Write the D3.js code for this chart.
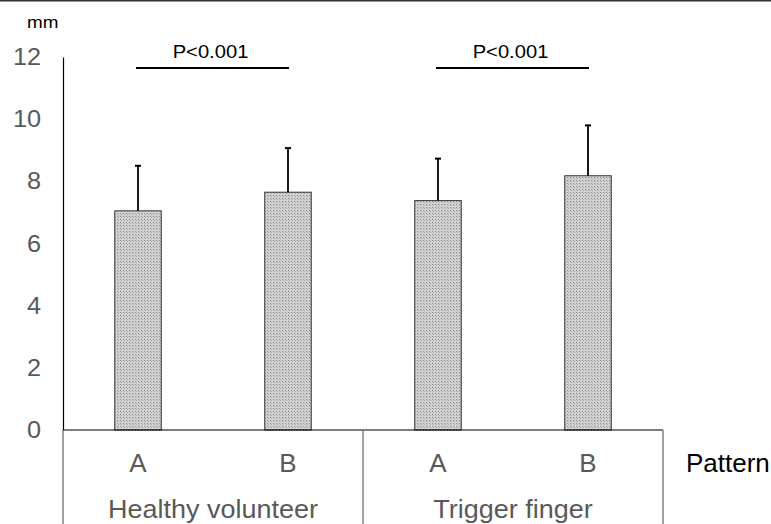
<!DOCTYPE html>
<html>
<head>
<meta charset="utf-8">
<script src="https://cdn.jsdelivr.net/npm/d3@7"></script>
<style>
  body { margin: 0; background: #fff; }
  text { font-family: "Liberation Sans", Arial, sans-serif; }
</style>
</head>
<body>
<div id="chart"></div>
<script>
// chart data
const groups = ["Healthy volunteer", "Trigger finger"];
const patterns = ["A", "B"];
const means = [7.05, 7.65, 7.38, 8.18];
const sds = [1.45, 1.42, 1.35, 1.62];
const yTicks = [0, 2, 4, 6, 8, 10, 12];
const sigLabels = ["P<0.001", "P<0.001"];

// text in the original is a bit wider than Arial, so stretch it sideways
function placeText(sel, x, y, sx) {
    sel.attr("transform", `translate(${x},${y}) scale(${sx},1)`);
    return sel;
}

function drawChart() {
    const width = 771, height = 524;
    const left = 63, right = 663, top = 57, bottom = 430;

    const svg = d3.select("#chart")
        .append("svg")
        .attr("width", width)
        .attr("height", height);

    // dotted fill like the original
    const pat = svg.append("defs").append("pattern")
        .attr("id", "dots")
        .attr("patternUnits", "userSpaceOnUse")
        .attr("width", 3)
        .attr("height", 3);
    pat.append("rect").attr("width", 3).attr("height", 3).attr("fill", "#d2d2d2");
    pat.append("rect").attr("width", 1).attr("height", 1).attr("fill", "#8a8a8a");
    pat.append("rect").attr("x", 1).attr("y", 1).attr("width", 1).attr("height", 1).attr("fill", "#a8a8a8");

    // frame line at the very top
    svg.append("line")
        .attr("x1", 0).attr("x2", width)
        .attr("y1", 0.75).attr("y2", 0.75)
        .style("stroke", "#333")
        .style("stroke-width", 1.5);

    const y = d3.scaleLinear().domain([0, 12]).range([bottom, top]);

    const cells = [];
    groups.forEach((g, gi) => patterns.forEach((p, pi) => {
        cells.push({ key: g + "|" + p, group: g, pattern: p, i: gi * patterns.length + pi });
    }));

    const x = d3.scaleBand()
        .domain(cells.map(d => d.key))
        .range([left, right])
        .paddingInner(0.69)
        .paddingOuter(0.345);

    const xGroup = d3.scaleBand().domain(groups).range([left, right]);

    // y axis
    const yAxis = svg.append("g")
        .attr("transform", `translate(${left},0)`)
        .call(d3.axisLeft(y).tickValues(yTicks).tickSize(0));
    yAxis.select(".domain").style("stroke", "#000").style("stroke-width", 1.2);
    yAxis.selectAll("text")
        .attr("x", null)
        .attr("dy", null)
        .each(function (d) {
            placeText(d3.select(this), -22, 7.5, 1.1);
        })
        .style("font-size", "23px")
        .style("fill", "#595959")
        .style("font-family", "Liberation Sans, Arial, sans-serif");

    placeText(svg.append("text"), 27, 28, 1.18)
        .style("font-size", "16px")
        .text("mm");

    // bars
    svg.selectAll(".bar")
        .data(cells)
        .enter()
        .append("rect")
        .attr("class", "bar")
        .attr("x", d => x(d.key))
        .attr("y", d => y(means[d.i]))
        .attr("width", x.bandwidth())
        .attr("height", d => bottom - y(means[d.i]))
        .style("fill", "url(#dots)")
        .style("stroke", "#333")
        .style("stroke-width", 1);

    // error bars (upper only)
    const err = svg.selectAll(".err").data(cells).enter().append("g");
    err.append("line")
        .attr("x1", d => x(d.key) + x.bandwidth() / 2)
        .attr("x2", d => x(d.key) + x.bandwidth() / 2)
        .attr("y1", d => y(means[d.i]))
        .attr("y2", d => y(means[d.i] + sds[d.i]))
        .style("stroke", "#000")
        .style("stroke-width", 1.8);
    err.append("line")
        .attr("x1", d => x(d.key) + x.bandwidth() / 2 - 3)
        .attr("x2", d => x(d.key) + x.bandwidth() / 2 + 3)
        .attr("y1", d => y(means[d.i] + sds[d.i]))
        .attr("y2", d => y(means[d.i] + sds[d.i]))
        .style("stroke", "#000")
        .style("stroke-width", 2);

    // x axis baseline and category table
    svg.append("line")
        .attr("x1", left).attr("x2", right)
        .attr("y1", bottom).attr("y2", bottom)
        .style("stroke", "#000").style("stroke-width", 1.2);

    const dividers = [left].concat(groups.map(g => xGroup(g) + xGroup.bandwidth()));
    svg.selectAll(".divider")
        .data(dividers)
        .enter()
        .append("line")
        .attr("x1", d => d).attr("x2", d => d)
        .attr("y1", bottom).attr("y2", height)
        .style("stroke", "#666")
        .style("stroke-width", 1.2);

    svg.selectAll(".plabel")
        .data(cells)
        .enter()
        .append("text")
        .each(function (d) {
            placeText(d3.select(this), x(d.key) + x.bandwidth() / 2, 472, 1.04);
        })
        .attr("text-anchor", "middle")
        .style("font-size", "25px")
        .style("fill", "#595959")
        .text(d => d.pattern);

    svg.selectAll(".glabel")
        .data(groups)
        .enter()
        .append("text")
        .each(function (d) {
            placeText(d3.select(this), xGroup(d) + xGroup.bandwidth() / 2, 518, 1.08);
        })
        .attr("text-anchor", "middle")
        .style("font-size", "25px")
        .style("fill", "#595959")
        .text(d => d);

    placeText(svg.append("text"), 686, 472, 1.04)
        .style("font-size", "25px")
        .style("fill", "#000")
        .text("Pattern");

    // significance brackets
    groups.forEach((g, gi) => {
        const a = cells[gi * 2], b = cells[gi * 2 + 1];
        const x1 = x(a.key) + x.bandwidth() / 2 - 2;
        const x2 = x(b.key) + x.bandwidth() / 2 + 1;
        svg.append("line")
            .attr("x1", x1).attr("x2", x2)
            .attr("y1", 68).attr("y2", 68)
            .style("stroke", "#000").style("stroke-width", 2);
        placeText(svg.append("text"), (x1 + x2) / 2 - 2, 58, 1.09)
            .attr("text-anchor", "middle")
            .style("font-size", "18.5px")
            .text(sigLabels[gi]);
    });
}

drawChart();
</script>
</body>
</html>
